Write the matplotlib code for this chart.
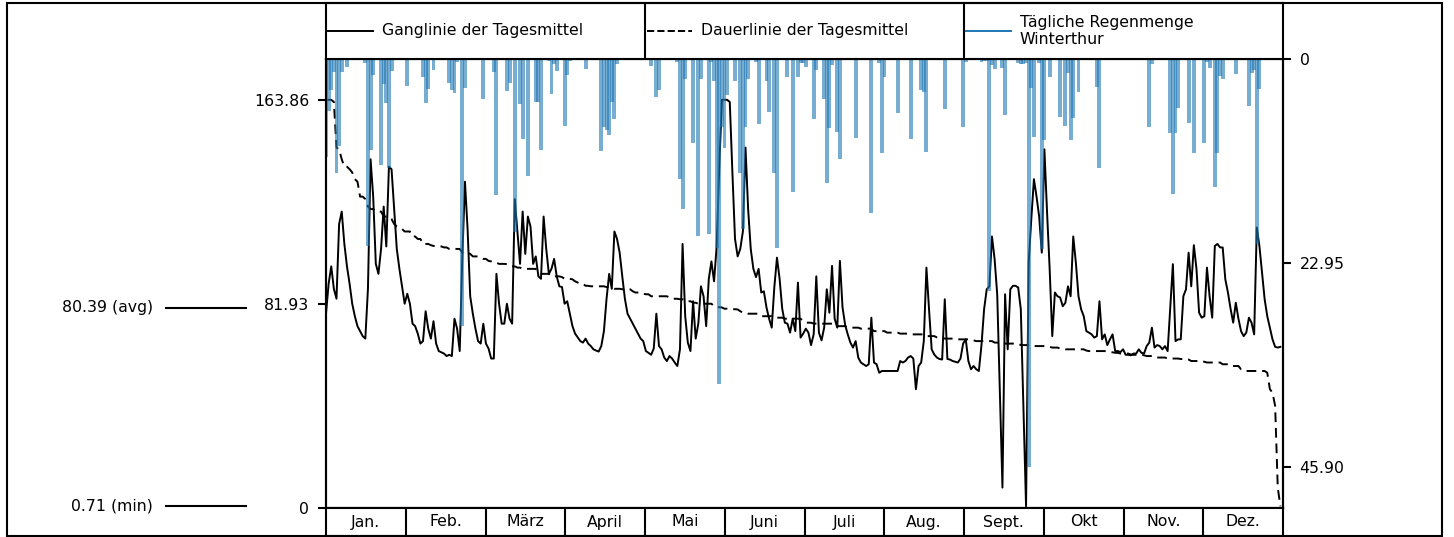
import numpy as np
import matplotlib.pyplot as plt
import matplotlib.transforms as mtransforms
from matplotlib.patches import Rectangle

plt.rcParams['font.family'] = ['DejaVu Sans']
plt.rcParams['font.size'] = 11.3

# Tagesmittel Abfluss (365 Tage)
abfluss = [
    78, 90, 97, 88, 84, 114, 119, 106, 97, 90,
    82, 77, 73, 71, 69, 68, 88, 140, 125, 98,
    94, 104, 121, 105, 137, 136, 120, 104, 96, 89,
    82, 86, 82, 74, 73, 70, 66, 67, 79, 72,
    68, 75, 66, 63, 62.5, 62, 61, 61.5, 61, 76,
    72, 63, 101, 131, 112, 85, 78, 72, 67, 66,
    74, 66, 64, 60, 60, 94, 82, 74, 74, 82,
    76, 74, 124, 111, 98, 119, 102, 117, 113, 98,
    101, 93, 92, 117, 104, 94, 96, 100, 93, 89,
    88.7, 82, 83, 78, 73, 70, 68.5, 67, 66.4, 68,
    66, 65, 63.7, 63.2, 62.8, 65, 71, 84, 94, 88,
    111, 108, 102.5, 93, 84, 78, 76, 74, 72, 70,
    68, 67, 63, 62.3, 61.5, 64, 78, 65, 63.7, 60.4,
    59, 61, 60, 58.4, 57, 63.7, 106, 77, 66.4, 63,
    83, 68, 74, 89, 85, 73, 92, 99, 91, 105,
    137, 163.86, 163.86, 163.86, 163, 134.7, 108, 101, 104, 111,
    144.7, 120, 104, 96, 92.7, 96, 86.5, 87, 80.5, 76,
    72.4, 88.7, 100.5, 92, 80, 74.4, 74, 70.4, 76, 71,
    90.5, 68.4, 70, 72, 70.4, 65.4, 69.7, 93, 70.4, 67.3,
    72.4, 87.8, 78.4, 97.2, 76, 72.4, 99.2, 80.6, 73.5, 69.7,
    66.4, 64.4, 67, 60.4, 58.4, 57.7, 57, 57.7, 76.4, 58.4,
    57.7, 54.3, 55, 55, 55, 55, 55, 55, 55, 59,
    58.4, 59, 60.4, 61, 60, 47.7, 57, 58.4, 67, 96.5,
    79.7, 63.7, 61.6, 60.4, 59.8, 59.6, 83.8, 59.8, 59.6, 59,
    58.7, 58.4, 60, 66, 67.7, 59, 55.7, 57, 55.7, 55,
    65.4, 79.8, 87.8, 89, 109, 100, 85.8, 46.3, 8.2, 85.8,
    63.7, 87.8, 89.2, 89.2, 88.5, 79.8, 41, 0.71, 98.5, 116,
    132, 125, 117, 102.5, 144, 119, 96, 69, 86.5, 85,
    84.5, 81, 82.4, 89, 85, 109, 98.5, 85, 79.8, 77,
    71, 70.4, 69.7, 68.4, 69, 83, 67.7, 69.7, 65.4, 67.7,
    69.7, 63, 63, 62.6, 63.7, 61.5, 61.5, 61.3, 62, 62,
    63.7, 62.3, 62, 65, 66.4, 72.4, 64.4, 65.4, 65, 63.7,
    65, 63, 80.6, 97.9, 67, 67.7, 67.7, 85, 87.8, 102.5,
    89, 105.5, 96, 78.4, 76.4, 77, 96.5, 85, 76.4, 105.2,
    106, 104.6, 104.6, 91.8, 86.5, 80, 74.4, 82.4, 76, 71,
    69, 70.4, 76.4, 74.4, 69.7, 112.6, 105.2, 94.5, 83.8, 77,
    72.4, 67.7, 64.7, 64.4, 64.7,
]

# Regentage (Tag im Jahr) und Regenmenge
regen_tag = [0, 1, 2, 3, 4, 5, 6, 8, 15, 16, 17, 18, 21, 22, 23, 24, 25, 31,
             37, 38, 39, 41, 47, 48, 49, 50, 52, 53, 60, 64, 65, 69, 70, 72,
             74, 75, 77, 80, 81, 82, 85, 86, 87, 88, 91, 92, 93, 99, 105, 106,
             107, 108, 109, 110, 111, 124, 126, 127, 134, 135, 136, 137, 140,
             142, 143, 146, 147, 148, 149, 150, 151, 152, 153, 156, 158, 159,
             160, 161, 164, 165, 168, 169, 171, 172, 176, 178, 180, 181, 182,
             183, 186, 187, 190, 191, 192, 193, 195, 196, 202, 208, 211, 212,
             213, 218, 223, 227, 228, 229, 230, 236, 243, 244, 250, 251, 252,
             253, 254, 255, 258, 259, 264, 265, 266, 267, 268, 269, 270, 272,
             273, 274, 276, 278, 280, 282, 283, 284, 285, 287, 288, 294, 295,
             314, 315, 322, 323, 324, 325, 329, 331, 335, 336, 337, 338, 339,
             340, 341, 342, 347, 352, 353, 354, 355, 356]
regen_mm = [11.0, 5.9, 3.5, 1.5, 12.8, 9.8, 1.5, 0.9, 0.5, 21.0, 10.2, 1.8,
            11.9, 2.8, 5.0, 12.3, 1.3, 3.0, 2.0, 4.9, 3.4, 1.2, 2.7, 3.5, 3.8,
            0.3, 30.0, 3.3, 4.5, 1.5, 15.3, 3.6, 2.7, 19.4, 5.1, 9.0, 13.2,
            4.8, 4.8, 10.2, 0.2, 3.9, 0.6, 1.3, 7.5, 1.8, 0.2, 1.1, 10.4, 7.6,
            8.0, 8.5, 4.8, 6.7, 0.6, 0.8, 4.3, 3.5, 0.3, 13.5, 16.9, 2.2, 9.4,
            19.9, 2.2, 19.7, 0.3, 2.5, 21.2, 36.5, 7.7, 10.0, 4.0, 2.5, 12.8,
            19.1, 7.7, 2.2, 0.3, 7.3, 2.5, 6.0, 12.8, 21.3, 2.0, 14.9, 2.0,
            0.5, 0.5, 0.9, 6.7, 1.2, 4.5, 13.9, 7.8, 0.7, 8.2, 11.2, 8.9, 17.3,
            0.5, 10.6, 2.0, 6.1, 9.0, 3.5, 3.7, 10.5, 0.1, 5.6, 7.6, 0.3, 0.3,
            0.2, 0.2, 26.1, 0.7, 1.1, 1.0, 6.3, 0.5, 0.6, 0.6, 0.5, 45.9, 3.3,
            8.8, 0.5, 21.4, 9.1, 2.0, 0.1, 6.5, 7.5, 1.6, 9.1, 6.6, 3.7, 0.1,
            3.2, 12.3, 7.6, 0.6, 8.3, 15.2, 8.3, 5.5, 7.2, 10.6, 9.4, 0.3, 1.0,
            0.1, 14.4, 10.6, 1.9, 2.3, 1.7, 5.3, 1.6, 1.2, 20.8, 3.4]

monate = ["Jan.", "Feb.", "März", "April", "Mai", "Juni", "Juli", "Aug.",
          "Sept.", "Okt", "Nov.", "Dez."]
legende = ["Ganglinie der Tagesmittel", "Dauerlinie der Tagesmittel",
           "Tägliche Regenmenge\nWinterthur"]
q_max = 163.86
q_avg = 80.39
q_min = 0.71
r_max = 45.90

W, H = 1454, 537
fig = plt.figure(figsize=(W / 100, H / 100), dpi=100)

L = 326 / W
R = 1283 / W
AW = R - L
y_bot = (H - 508) / H
y_top = (H - 59) / H

# outer frame
fig.add_artist(Rectangle((7 / W, 1 / H), (1442 - 7) / W, (534 - 1) / H,
                         transform=fig.transFigure, fill=False, lw=1.5,
                         edgecolor='black'))

# main plot
ax = fig.add_axes([L, y_bot, AW, y_top - y_bot])
tage = np.arange(len(abfluss))
ax.plot(tage, abfluss, color='black', lw=1.4)
dauer = np.sort(np.array(abfluss))[::-1]
ax.plot(tage, dauer, color='black', lw=1.4, ls='--', dashes=(5, 3))
ax.set_xlim(0, 365)
ax.set_ylim(0, q_max * 1.1)
ax.set_xticks([])
ax.set_yticks([0, q_max / 2, q_max])
ax.set_yticklabels(["0", f"{q_max / 2:.2f}", f"{q_max:.2f}"])
ax.tick_params(axis='y', length=6, width=1.5, pad=6)
for s in ax.spines.values():
    s.set_linewidth(1.5)

ax2 = ax.twinx()
ax2.bar(regen_tag, regen_mm, width=1.5, color='tab:blue', alpha=0.6)
ax2.set_ylim(r_max * 1.1, 0)
ax2.set_yticks([0, r_max / 2, r_max])
ax2.set_yticklabels(["0", f"{r_max / 2:.2f}", f"{r_max:.2f}"])
ax2.tick_params(axis='y', length=6, width=1.5, pad=6)
for s in ax2.spines.values():
    s.set_linewidth(1.5)

# avg / min markers on the left
trans = mtransforms.blended_transform_factory(fig.transFigure, ax.transData)
for wert, name in [(q_avg, "avg"), (q_min, "min")]:
    ax.plot([166 / W, 246 / W], [wert, wert], color='black', lw=1.5,
            transform=trans, clip_on=False)
    ax.text(153 / W, wert, f"{wert:.2f} ({name})", transform=trans,
            ha='right', va='center')

# legend band
ax_leg = fig.add_axes([L, y_top, AW, (59 - 3) / H])
ax_leg.set_xlim(0, 3)
ax_leg.set_ylim(0, 1)
ax_leg.set_xticks([])
ax_leg.set_yticks([])
for s in ax_leg.spines.values():
    s.set_linewidth(1.5)
for i in (1, 2):
    ax_leg.axvline(i, color='black', lw=1.5)
stile = [dict(color='black', ls='-'), dict(color='black', ls='--'),
         dict(color='tab:blue', ls='-')]
for i, (txt, st) in enumerate(zip(legende, stile)):
    ax_leg.plot([i + 0.006, i + 0.147], [0.5, 0.5], lw=1.4, **st)
    ax_leg.text(i + 0.175, 0.5, txt, ha='left', va='center')

# month band
ax_mon = fig.add_axes([L, 1 / H, AW, y_bot - 1 / H])
ax_mon.set_xlim(0, 12)
ax_mon.set_ylim(0, 1)
ax_mon.set_xticks([])
ax_mon.set_yticks([])
for s in ax_mon.spines.values():
    s.set_linewidth(1.5)
for i, m in enumerate(monate):
    if i > 0:
        ax_mon.axvline(i, color='black', lw=1.5)
    ax_mon.text(i + 0.5, 0.5, m, ha='center', va='center')

fig.savefig("out.png", dpi=100)
